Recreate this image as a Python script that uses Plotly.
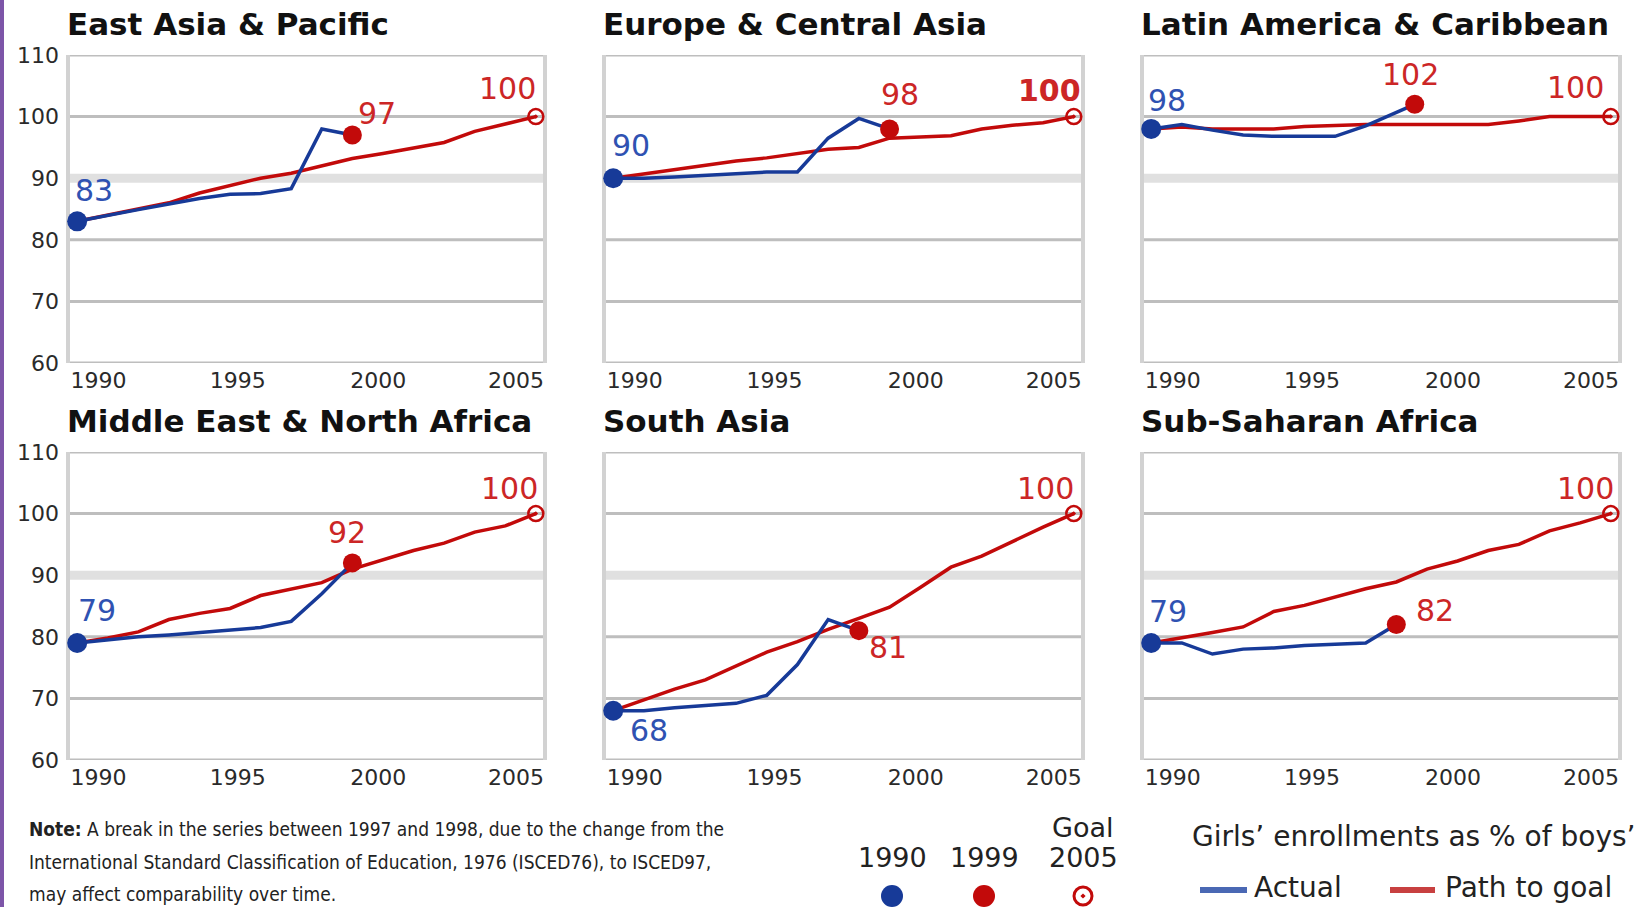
import plotly.graph_objects as go

# ---------------- data ----------------
regions = ["East Asia & Pacific", "Europe & Central Asia", "Latin America & Caribbean",
           "Middle East & North Africa", "South Asia", "Sub-Saharan Africa"]

path_years = list(range(1990, 2006))
path_eap = [83, 84, 85, 86, 87.6, 88.8, 90, 90.8, 92, 93.2, 94, 94.9, 95.8, 97.6, 98.8, 100]
path_eca = [90, 90.7, 91.4, 92.2, 92.8, 93.3, 94, 94.7, 95, 96.5, 96.7, 96.9, 98, 98.6, 99, 100]
path_lac = [98, 98.3, 98, 98, 98, 98.4, 98.6, 98.7, 98.7, 98.7, 98.7, 98.7, 99.3, 100, 100, 100]
path_mena = [79, 79.8, 80.8, 82.8, 83.8, 84.6, 86.7, 87.8, 88.8, 91, 92.5, 94, 95.2, 97, 98, 100]
path_sa = [68, 69.7, 71.5, 73, 75.3, 77.5, 79.2, 81.2, 83, 84.8, 88, 91.3, 93.1, 95.5, 97.8, 100]
path_ssa = [79, 79.8, 80.7, 81.6, 84.1, 85.1, 86.5, 87.8, 88.9, 91, 92.3, 94, 95, 97.2, 98.5, 100]

years_eap = [1990, 1991, 1992, 1993, 1994, 1995, 1996, 1997, 1998, 1999]
actual_eap = [83, 84, 84.9, 85.8, 86.7, 87.4, 87.5, 88.3, 98, 97]
years_eca = [1990, 1991, 1992, 1993, 1994, 1995, 1996, 1997, 1998, 1999]
actual_eca = [90, 90, 90.2, 90.5, 90.8, 91, 91, 96.5, 99.7, 98]
years_lac = [1990, 1991, 1992, 1993, 1994, 1995, 1996, 1997, 1998, 1998.6]
actual_lac = [98, 98.7, 97.8, 97, 96.8, 96.8, 96.8, 98.5, 100.6, 102]
years_mena = [1990, 1991, 1992, 1993, 1994, 1995, 1996, 1997, 1998, 1999]
actual_mena = [79, 79.5, 80, 80.3, 80.7, 81.2, 81.5, 82.5, 87, 92]
years_sa = [1990, 1991, 1992, 1993, 1994, 1995, 1996, 1997, 1998]
actual_sa = [68, 68, 68.5, 68.8, 69.2, 70.5, 75.5, 82.8, 81]
years_ssa = [1990, 1991, 1992, 1993, 1994, 1995, 1996, 1997, 1998]
actual_ssa = [79, 79, 77.2, 78, 78.2, 78.6, 78.8, 79, 82]

start_values = [83, 90, 98, 79, 68, 79]
latest_values = [97, 98, 102, 92, 81, 82]
goal_value = 100
goal_year = 2005

x_tick_labels = ["1990", "1995", "2000", "2005"]
y_tick_values = [60, 70, 80, 90, 100, 110]

key_years = ["1990", "1999", "2005"]
key_goal = "Goal"
legend_title = "Girls\u2019 enrollments as % of boys\u2019"
legend_series = ["Actual", "Path to goal"]
note_lines = ["<b>Note:</b> A break in the series between 1997 and 1998, due to the change from the",
              "International Standard Classification of Education, 1976 (ISCED76), to ISCED97,",
              "may affect comparability over time."]

paths = [path_eap, path_eca, path_lac, path_mena, path_sa, path_ssa]
actual_years = [years_eap, years_eca, years_lac, years_mena, years_sa, years_ssa]
actuals = [actual_eap, actual_eca, actual_lac, actual_mena, actual_sa, actual_ssa]

# ---------------- style / layout ----------------
W, H = 1647, 907
BLUE = "#173a98"
RED = "#c20a0a"
BLUE_TXT = "#2f52b2"
RED_TXT = "#cc2626"
LEG_BLUE = "#4a68b4"
LEG_RED = "#c84040"
GRID = "#bebebe"
BAND = "#e0e0e0"
FONT = "DejaVu Sans"

col_px = [(68, 545), (604, 1083), (1142, 1620)]
row_px = [(55, 363), (452, 760)]
x_range = [1989.7, 2005.3]
tick_pos = [1990.7, 1995.25, 1999.85, 2004.35]

# label offsets in pixels (dx right, dy down) for start / latest / goal labels
label_off = [
    [(17, -31), (25, -22), (-28, -28)],
    [(18, -33), (10, -34), (-24, -26)],
    [(16, -28), (-4, -30), (-35, -29)],
    [(20, -32), (-5, -30), (-26, -25)],
    [(36, 20), (29, 17), (-28, -25)],
    [(17, -31), (39, -14), (-25, -25)],
]
goal_bold = [False, True, False, False, False, False]
title_y_px = [24, 421]

fig = go.Figure()
layout = dict(
    width=W, height=H, autosize=False,
    margin=dict(l=0, r=0, t=0, b=0, autoexpand=False),
    paper_bgcolor="white", plot_bgcolor="rgba(0,0,0,0)",
    font=dict(family=FONT, color="#222"),
    showlegend=False,
)
shapes = []
annotations = []

for i, region in enumerate(regions):
    r, c = divmod(i, 3)
    n = i + 1
    xs = "" if n == 1 else str(n)
    xa, ya = "x" + xs, "y" + xs
    x0p, x1p = col_px[c]
    y0p, y1p = row_px[r]
    layout["xaxis" + xs] = dict(
        domain=[x0p / W, x1p / W], range=x_range, anchor=ya,
        tickvals=tick_pos, ticktext=x_tick_labels, ticks="",
        showgrid=False, zeroline=False, showline=False, ticklabelstandoff=2,
        tickfont=dict(size=22, color="#2a2a2a", family=FONT), fixedrange=True,
    )
    layout["yaxis" + xs] = dict(
        domain=[1 - y1p / H, 1 - y0p / H], range=[60, 110], anchor=xa,
        tickvals=y_tick_values, ticks="", showticklabels=(c == 0),
        showgrid=False, zeroline=False, showline=False, ticklabelstandoff=8,
        tickfont=dict(size=22, color="#2a2a2a", family=FONT), fixedrange=True,
    )
    # gridlines
    for v in y_tick_values:
        shapes.append(dict(type="line", xref=xa + " domain", yref=ya, x0=0, x1=1, y0=v, y1=v,
                           line=dict(color=BAND if v == 90 else GRID, width=9 if v == 90 else 3),
                           layer="below"))
    for xv in (0, 1):
        shapes.append(dict(type="line", xref=xa + " domain", yref=ya + " domain", x0=xv, x1=xv,
                           y0=0, y1=1, line=dict(color="#d2d2d2", width=4), layer="below"))
    # title
    annotations.append(dict(text="<b>" + region + "</b>", xref="paper", yref="paper",
                            x=(x0p - 3) / W, y=1 - title_y_px[r] / H, xanchor="left", yanchor="middle",
                            showarrow=False, font=dict(size=31, color="#111", family=FONT)))
    # lines
    fig.add_trace(go.Scatter(x=path_years, y=paths[i], mode="lines", xaxis=xa, yaxis=ya,
                             line=dict(color=RED, width=3.5), name="Path to goal", hoverinfo="skip"))
    fig.add_trace(go.Scatter(x=actual_years[i], y=actuals[i], mode="lines", xaxis=xa, yaxis=ya,
                             line=dict(color=BLUE, width=3.5), name="Actual", hoverinfo="skip"))
    yr0 = actual_years[i][0]
    yrL = actual_years[i][-1]
    fig.add_trace(go.Scatter(x=[yr0], y=[start_values[i]], mode="markers", xaxis=xa, yaxis=ya,
                             marker=dict(color=BLUE, size=20), cliponaxis=False, hoverinfo="skip"))
    fig.add_trace(go.Scatter(x=[yrL], y=[latest_values[i]], mode="markers", xaxis=xa, yaxis=ya,
                             marker=dict(color=RED, size=19), cliponaxis=False, hoverinfo="skip"))
    fig.add_trace(go.Scatter(x=[goal_year], y=[goal_value], mode="markers", xaxis=xa, yaxis=ya,
                             marker=dict(symbol="circle-open-dot", color=RED, size=15,
                                         line=dict(width=2.5, color=RED)),
                             cliponaxis=False, hoverinfo="skip"))
    # labels
    pts = [(yr0, start_values[i], BLUE_TXT, False), (yrL, latest_values[i], RED_TXT, False),
           (goal_year, goal_value, RED_TXT, goal_bold[i])]
    for (px, py, col, bold), (dx, dy) in zip(pts, label_off[i]):
        txt = f"{py:g}"
        if bold:
            txt = "<b>" + txt + "</b>"
        annotations.append(dict(text=txt, xref=xa, yref=ya, x=px, y=py, xshift=dx, yshift=-dy,
                                showarrow=False, xanchor="center", yanchor="middle",
                                font=dict(size=30, color=col, family=FONT)))

# overlay pixel axis for the key at the bottom
layout["xaxis7"] = dict(domain=[0, 1], range=[0, W], visible=False, anchor="y7", fixedrange=True)
layout["yaxis7"] = dict(domain=[0, 1], range=[H, 0], visible=False, anchor="x7", fixedrange=True)
key_x = [892, 984, 1083]
fig.add_trace(go.Scatter(x=key_x[:2], y=[896, 896], mode="markers", xaxis="x7", yaxis="y7",
                         marker=dict(color=[BLUE, RED], size=22), hoverinfo="skip", cliponaxis=False))
fig.add_trace(go.Scatter(x=key_x[2:], y=[896], mode="markers", xaxis="x7", yaxis="y7",
                         marker=dict(symbol="circle-open-dot", color=RED, size=18,
                                     line=dict(width=3, color=RED)),
                         hoverinfo="skip", cliponaxis=False))
for kx, lab in zip(key_x, key_years):
    annotations.append(dict(text=lab, xref="x7", yref="y7", x=kx, y=857, xanchor="center",
                            yanchor="middle", showarrow=False,
                            font=dict(size=27, color="#222", family=FONT)))
annotations.append(dict(text=key_goal, xref="x7", yref="y7", x=key_x[2], y=827, xanchor="center",
                        yanchor="middle", showarrow=False, font=dict(size=27, color="#222", family=FONT)))

# series key
fig.add_trace(go.Scatter(x=[1200, 1247], y=[890, 890], mode="lines", xaxis="x7", yaxis="y7",
                         line=dict(color=LEG_BLUE, width=6), hoverinfo="skip"))
fig.add_trace(go.Scatter(x=[1390, 1435], y=[890, 890], mode="lines", xaxis="x7", yaxis="y7",
                         line=dict(color=LEG_RED, width=6), hoverinfo="skip"))
annotations.append(dict(text=legend_title, xref="x7", yref="y7", x=1190, y=836, xanchor="left",
                        yanchor="middle", showarrow=False, font=dict(size=28, color="#222", family=FONT)))
for lx, lab in zip([1252, 1443], legend_series):
    annotations.append(dict(text=lab, xref="x7", yref="y7", x=lx, y=887, xanchor="left",
                            yanchor="middle", showarrow=False, font=dict(size=28, color="#222", family=FONT)))

# note, one line per annotation for the wider line spacing
for k, line in enumerate(note_lines):
    annotations.append(dict(text=line, xref="x7", yref="y7", x=27, y=829 + 32.5 * k,
                            xanchor="left", yanchor="middle", align="left", showarrow=False,
                            font=dict(size=19, color="#222",
                                      family="Liberation Sans Narrow, DejaVu Sans Condensed, Liberation Sans")))

shapes.append(dict(type="line", xref="paper", yref="paper", x0=2 / W, x1=2 / W, y0=0, y1=1,
                   line=dict(color="#7d55a8", width=4)))

layout["shapes"] = shapes
layout["annotations"] = annotations
fig.update_layout(**layout)

fig.write_html("out.html", config={"displayModeBar": False},
               post_script="document.body.style.margin='0';document.body.style.overflow='hidden';")
